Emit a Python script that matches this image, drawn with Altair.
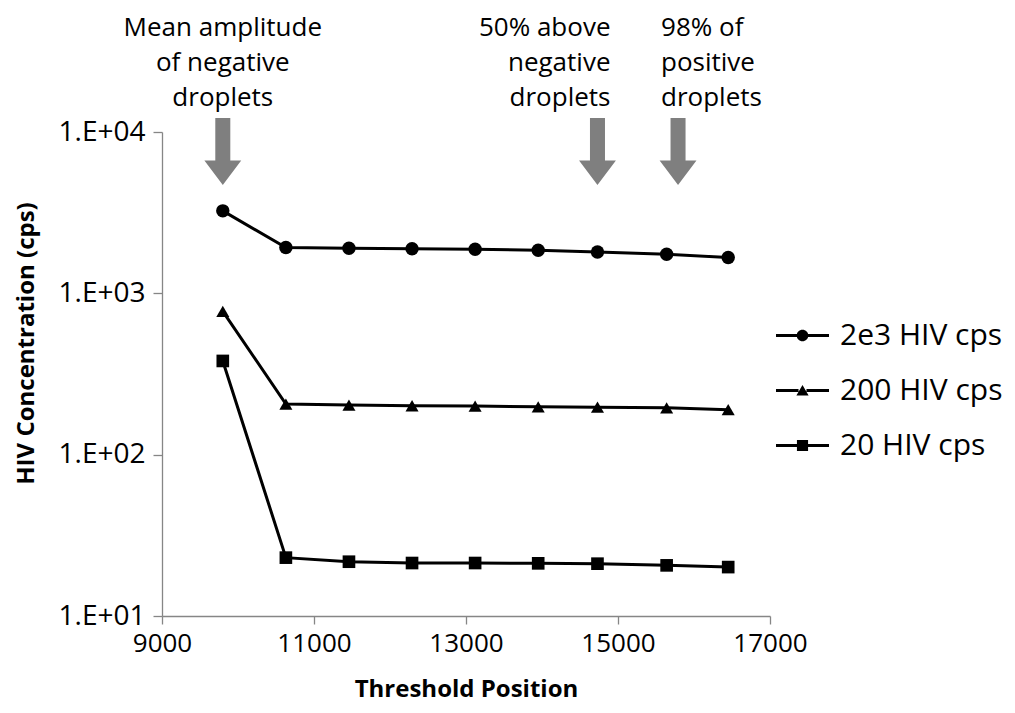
import altair as alt
import pandas as pd

# ---- data ----
thresholds = [9800, 10630, 11460, 12290, 13120, 13950, 14730, 15640, 16450]
series_names = ["2e3 HIV cps", "200 HIV cps", "20 HIV cps"]
conc_2e3 = [3245, 1923, 1904, 1890, 1876, 1849, 1804, 1747, 1666]
conc_200 = [773, 206, 203, 201, 200, 198, 197, 195, 190]
conc_20 = [381, 23.0, 21.7, 21.3, 21.3, 21.2, 21.1, 20.6, 20.1]

x_ticks = [9000, 11000, 13000, 15000, 17000]
y_ticks = [10, 100, 1000, 10000]

arrow_x = [9800, 14730, 15790]
annot_x = [9800, 14730, 15790]
annot_text = ["Mean amplitude\nof negative\ndroplets",
              "50% above\nnegative\ndroplets",
              "98% of\npositive\ndroplets"]
annot_align = ["center", "right", "left"]
annot_dx = [0, 13, -17]

FONT = "Open Sans"

rows = []
for name, vals in zip(series_names, [conc_2e3, conc_200, conc_20]):
    for t, v in zip(thresholds, vals):
        rows.append({"series": name, "threshold": t, "conc": v})
df = pd.DataFrame(rows)

x_enc = alt.X("threshold:Q",
              scale=alt.Scale(domain=[9000, 17000], nice=False, zero=False),
              axis=alt.Axis(values=x_ticks, format="d", grid=False, tickSize=8,
                            labelFlush=False,
                            title="Threshold Position", labelPadding=6,
                            titlePadding=21))
y_enc = alt.Y("conc:Q",
              scale=alt.Scale(type="log", domain=[10, 10000], nice=False),
              axis=alt.Axis(values=y_ticks, grid=False, tickSize=9,
                            labelFlush=False,
                            labelExpr="replace(format(datum.value, '.0e'), 'e+', '.E+0')",
                            title="HIV Concentration (cps)", labelPadding=8,
                            titlePadding=20, titleY=211))

base = alt.Chart(df)

lines = base.mark_line(color="black", strokeWidth=3).encode(
    x=x_enc, y=y_enc, detail="series:N")

points = base.mark_point(filled=True, color="black", opacity=1).encode(
    x="threshold:Q", y="conc:Q",
    shape=alt.Shape("series:N",
                    scale=alt.Scale(domain=series_names,
                                    range=["circle", "triangle-up", "square"]),
                    legend=None),
    size=alt.Size("series:N",
                  scale=alt.Scale(domain=series_names, range=[180, 160, 180]),
                  legend=None))

# legend symbols: line with marker in the middle
seg = "M -1 -0.06 L -0.15 -0.06 L -0.15 0.06 L -1 0.06 Z M 0.15 -0.06 L 1 -0.06 L 1 0.06 L 0.15 0.06 Z "
circ = seg + "M -0.22 0 A 0.22 0.22 0 1 1 0.22 0 A 0.22 0.22 0 1 1 -0.22 0 Z"
tri = seg + "M 0 -0.21 L 0.23 0.19 L -0.23 0.19 Z"
sq = seg + "M -0.21 -0.21 L 0.21 -0.21 L 0.21 0.21 L -0.21 0.21 Z"

legend_layer = base.transform_filter("false").mark_point(
    filled=True, color="black", opacity=1, size=2809).encode(
    x="threshold:Q", y="conc:Q",
    shape=alt.Shape("series:N",
                    scale=alt.Scale(domain=series_names, range=[circ, tri, sq]),
                    legend=alt.Legend(orient="none", legendX=614, legendY=177,
                                      title=None, symbolSize=2809,
                                      symbolStrokeWidth=0, labelFont=FONT,
                                      labelFontSize=30, labelColor="black",
                                      labelOffset=11, rowPadding=13, padding=0,
                                      labelLimit=400)))

arrow_path = ("M -0.224 -1 L 0.224 -1 L 0.224 0.27 L 0.55 0.27 L 0 1 "
              "L -0.55 0.27 L -0.224 0.27 Z")
arrows = alt.Chart(pd.DataFrame({"threshold": arrow_x})).mark_point(
    shape=arrow_path, filled=True, color="#7f7f7f", opacity=1, size=4489,
    strokeWidth=0).encode(x="threshold:Q", y=alt.value(19.5))

annot_df = pd.DataFrame({"threshold": annot_x, "text": annot_text,
                         "idx": list(range(3))})
annots = []
for i in range(3):
    annots.append(
        alt.Chart(annot_df).transform_filter(f"datum.idx == {i}").mark_text(
            align=annot_align[i], baseline="top", dx=annot_dx[i],
            font=FONT, fontSize=26, lineBreak="\n", lineHeight=35,
            color="black").encode(x="threshold:Q", y=alt.value(-117),
                                  text="text:N"))

chart = alt.layer(lines, points, legend_layer, arrows, *annots).resolve_scale(
    shape="independent", size="independent"
).properties(
    width=608, height=484,
    padding={"left": 154, "top": 124, "right": 232, "bottom": 89},
    autosize=alt.AutoSizeParams(type="none"),
).configure_view(stroke=None).configure_axis(
    domainColor="#868686", tickColor="#868686", domainWidth=1.3, tickWidth=1.3,
    labelFont=FONT, labelFontSize=26, labelColor="black",
    titleFont=FONT, titleFontSize=24, titleFontWeight="bold", titleColor="black",
).configure_axisY(labelFontSize=28)

chart.save("out.html", embed_options={"renderer": "svg", "actions": False})
